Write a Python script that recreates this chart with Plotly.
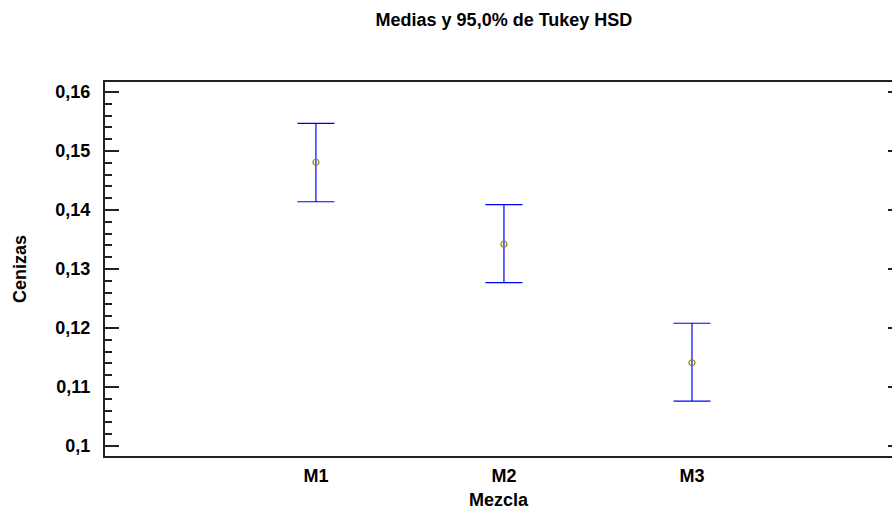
import plotly.graph_objects as go

categories = ["M1", "M2", "M3"]
means = [0.1481, 0.1342, 0.1141]
upper = [0.1547, 0.1409, 0.1208]
lower = [0.1414, 0.1277, 0.1076]
ytick_vals = [0.10, 0.11, 0.12, 0.13, 0.14, 0.15, 0.16]
ytick_text = ["0,1", "0,11", "0,12", "0,13", "0,14", "0,15", "0,16"]

err_plus = [u - m for u, m in zip(upper, means)]
err_minus = [m - l for m, l in zip(means, lower)]

FONT = "Liberation Sans, Arial, sans-serif"
FS = 18
YR = [0.0983, 0.1617]

fig = go.Figure()
fig.add_trace(go.Scatter(
    x=categories, y=means, mode="markers",
    marker=dict(symbol="circle-open", size=6, color="#8a8a00", line=dict(width=1.2)),
    error_y=dict(type="data", symmetric=False, array=err_plus, arrayminus=err_minus,
                 color="#0000ff", thickness=1.2, width=18.5),
    showlegend=False, hoverinfo="x+y",
))
# invisible trace to anchor the right-hand tick axis
fig.add_trace(go.Scatter(x=categories, y=means, yaxis="y2", mode="none",
                         showlegend=False, hoverinfo="skip"))

fig.update_layout(
    width=892, height=512,
    margin=dict(l=105, r=0, t=82, b=56),
    paper_bgcolor="white", plot_bgcolor="white",
    font=dict(family=FONT, size=FS, color="black", weight="bold"),
    title=dict(text="Medias y 95,0% de Tukey HSD", x=0.565, xanchor="center",
               y=1 - 20 / 512, yanchor="middle",
               font=dict(family=FONT, size=FS, weight="bold")),
    xaxis=dict(type="category", range=[-1.122, 3.064], showgrid=False, zeroline=False,
               showline=True, mirror=True, linecolor="#222", linewidth=2,
               ticks="", tickfont=dict(size=FS, weight="bold"), ticklabelstandoff=2,
               title=dict(text="Mezcla", standoff=9, font=dict(size=FS, weight="bold"))),
    yaxis=dict(range=YR, showgrid=False, zeroline=False, showline=True, mirror=False,
               linecolor="#222", linewidth=2,
               tickvals=ytick_vals, ticktext=ytick_text,
               ticks="inside", ticklen=14, tickwidth=1.5, tickcolor="#222",
               minor=dict(dtick=0.002, tick0=0.1, ticks="inside", ticklen=7,
                          tickwidth=1.5, tickcolor="#222"),
               tickfont=dict(size=FS, weight="bold"), ticklabelstandoff=9,
               title=dict(text="Cenizas", standoff=24, font=dict(size=FS, weight="bold"))),
    yaxis2=dict(range=YR, overlaying="y", side="right", anchor="x", showgrid=False,
                zeroline=False, showline=False, tickvals=ytick_vals,
                showticklabels=False, ticks="inside", ticklen=4, tickwidth=2,
                tickcolor="#222"),
)

fig.write_html("out.html")
